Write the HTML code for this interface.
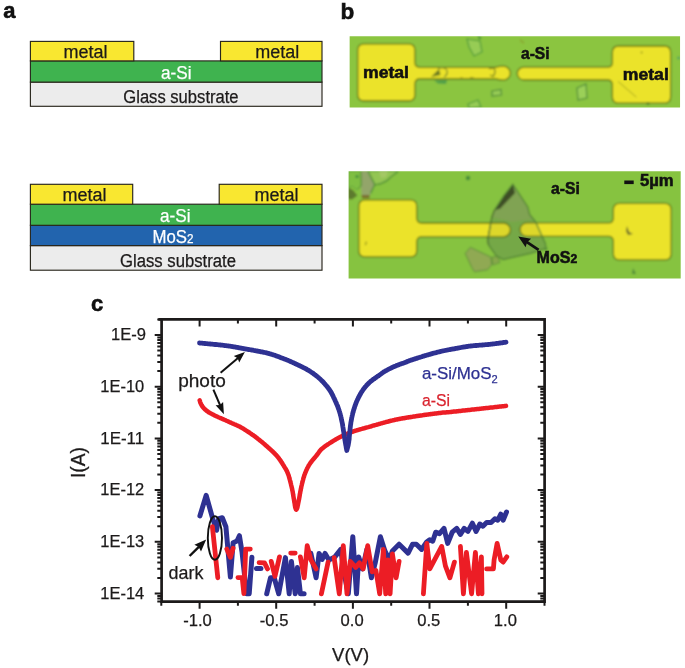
<!DOCTYPE html>
<html><head><meta charset="utf-8"><title>figure</title>
<style>
html,body{margin:0;padding:0;background:#fff;}
body{width:685px;height:668px;overflow:hidden;}
svg{display:block;font-family:"Liberation Sans",sans-serif;will-change:transform;opacity:0.9999;}
</style></head><body>
<svg width="685" height="668" viewBox="0 0 685 668">
<rect width="685" height="668" fill="#fff"/>
<rect x="30.4" y="82.1" width="291.6" height="24.2" fill="#ececec" stroke="#28261c" stroke-width="1.15"/>
<rect x="30.4" y="60.9" width="291.6" height="21.2" fill="#3fb34f" stroke="#28261c" stroke-width="1.15"/>
<rect x="30.4" y="41.4" width="103.4" height="19.5" fill="#f9e730" stroke="#28261c" stroke-width="1.15"/>
<rect x="220.5" y="41.4" width="101.5" height="19.5" fill="#f9e730" stroke="#28261c" stroke-width="1.15"/>
<rect x="30.4" y="245.6" width="291.6" height="24.6" fill="#ececec" stroke="#28261c" stroke-width="1.15"/>
<rect x="30.4" y="225.3" width="291.6" height="20.3" fill="#2264ae" stroke="#28261c" stroke-width="1.15"/>
<rect x="30.4" y="204.2" width="291.6" height="21.1" fill="#3fb34f" stroke="#28261c" stroke-width="1.15"/>
<rect x="30.4" y="184.3" width="102.3" height="19.9" fill="#f9e730" stroke="#28261c" stroke-width="1.15"/>
<rect x="219.2" y="184.3" width="102.8" height="19.9" fill="#f9e730" stroke="#28261c" stroke-width="1.15"/>
<text x="63.5" y="58.3" font-size="18" fill="#1c1a1a" text-anchor="start" font-weight="normal"  textLength="44" lengthAdjust="spacingAndGlyphs" stroke="#1c1a1a" stroke-width="0.25">metal</text>
<text x="255.2" y="58.3" font-size="18" fill="#1c1a1a" text-anchor="start" font-weight="normal"  textLength="44" lengthAdjust="spacingAndGlyphs" stroke="#1c1a1a" stroke-width="0.25">metal</text>
<text x="161" y="79" font-size="18" fill="#fff" text-anchor="start" font-weight="normal"  textLength="30.5" lengthAdjust="spacingAndGlyphs" stroke="#fff" stroke-width="0.25">a-Si</text>
<text x="123.3" y="102.5" font-size="18" fill="#1c1a1a" text-anchor="start" font-weight="normal"  textLength="115.3" lengthAdjust="spacingAndGlyphs" stroke="#1c1a1a" stroke-width="0.25">Glass substrate</text>
<text x="62.5" y="201.3" font-size="18" fill="#1c1a1a" text-anchor="start" font-weight="normal"  textLength="44" lengthAdjust="spacingAndGlyphs" stroke="#1c1a1a" stroke-width="0.25">metal</text>
<text x="254.5" y="201.3" font-size="18" fill="#1c1a1a" text-anchor="start" font-weight="normal"  textLength="44" lengthAdjust="spacingAndGlyphs" stroke="#1c1a1a" stroke-width="0.25">metal</text>
<text x="160" y="222.3" font-size="18" fill="#fff" text-anchor="start" font-weight="normal"  textLength="30.5" lengthAdjust="spacingAndGlyphs" stroke="#fff" stroke-width="0.25">a-Si</text>
<text x="152.5" y="242.7" font-size="18" fill="#fff" text-anchor="start" font-weight="normal"  textLength="41" lengthAdjust="spacingAndGlyphs" stroke="#fff" stroke-width="0.25">MoS<tspan font-size="12.5">2</tspan></text>
<text x="120" y="266.6" font-size="18" fill="#1c1a1a" text-anchor="start" font-weight="normal"  textLength="116" lengthAdjust="spacingAndGlyphs" stroke="#1c1a1a" stroke-width="0.25">Glass substrate</text>
<text x="3.2" y="18" font-size="22" fill="#111" text-anchor="start" font-weight="bold"  stroke="#111" stroke-width="0.55">a</text>
<text x="340.6" y="19.4" font-size="22.5" fill="#111" text-anchor="start" font-weight="bold"  stroke="#111" stroke-width="0.55">b</text>
<text x="91" y="310.8" font-size="22" fill="#111" text-anchor="start" font-weight="bold"  stroke="#111" stroke-width="0.55">c</text>
<defs><filter id="bl" x="-5%" y="-5%" width="110%" height="110%"><feGaussianBlur stdDeviation="0.8"/></filter><clipPath id="c1"><rect x="349.65" y="36.2" width="330.4" height="71.3"/></clipPath><clipPath id="c2"><rect x="348.6" y="171.2" width="332.1" height="107.3"/></clipPath></defs>
<g clip-path="url(#c1)"><g filter="url(#bl)">
<rect x="345" y="32" width="340" height="80" fill="#8bc53f"/>
<path d="M467 39 L480 41 L482 52 L474 56 L469 47Z" fill="#97cc55" stroke="#4f9a3a" stroke-width="1.2"/>
<path d="M492 91 L501 89.5 L501.5 95 L492 96Z" fill="#97cc55" stroke="#4f8a3a" stroke-width="1.2"/>
<path d="M577 88 L586 84 L587 98 L578 100Z" fill="#9bd058" stroke="#4f8a3a" stroke-width="1.2"/>
<path d="M468 104 L478 100 L481 107 L469 108Z" fill="#97cc55" stroke="#4f9a3a" stroke-width="1.2"/>
<path d="M364.2 43.9 H408.5 Q415 43.9 415 50.4 V62.3 Q415 67.3 420 67.3 H495.45 Q499.45 66.2 503.45 66.2 A6.950000000000001 6.950000000000001 0 0 1 503.45 80.1 Q499.45 80.1 495.45 79.0 H420 Q415 79.0 415 84.0 V94.5 Q415 101 408.5 101 H364.2 Q357.7 101 357.7 94.5 V50.4 Q357.7 43.9 364.2 43.9Z" fill="#ebe329" stroke="#637414" stroke-width="1.3"/>
<path d="M664.2 46 H618.8 Q612.3 46 612.3 52.5 V62.2 Q612.3 67.2 607.3 67.2 H523.6999999999999 A6.399999999999999 6.399999999999999 0 0 0 523.6999999999999 80.0 H607.3 Q612.3 80.0 612.3 85.0 V96.7 Q612.3 103.2 618.8 103.2 H664.2 Q670.7 103.2 670.7 96.7 V52.5 Q670.7 46 664.2 46Z" fill="#ebe329" stroke="#637414" stroke-width="1.3"/>
<path d="M431 77 L439 69 L440.5 75 Z" fill="#6a7a22"/>
<path d="M438 68.5 Q444 66 447 70 Q448 75 444 77" fill="none" stroke="#7a8a2a" stroke-width="1.2"/>
<path d="M434 80.5 L447 80 L446 84 L438 83.5Z" fill="#4f9f4a"/>
<path d="M489 68.5 L494 68 M494 68 Q496.5 72 493 76.5 L490 75" fill="none" stroke="#7a8420" stroke-width="1.3"/>
<path d="M477 34 L482 38 L479 40Z" fill="#4f9a3a"/>
<path d="M618 81.4 L636.4 97.2" stroke="#9a9a25" stroke-width="0.9" fill="none"/>
<circle cx="641.6" cy="52.5" r="0.9" fill="#8a8a25"/><circle cx="648" cy="103.5" r="1.5" fill="#4f7a2a"/><circle cx="678.6" cy="58" r="1.3" fill="#3f9a6a"/>
<path d="M520 40 l4 3" stroke="#8a9a2a" stroke-width="1.2"/>
<path d="M470 77.5 l4 0.5 M460 78 l3 0" stroke="#8a8a20" stroke-width="1" fill="none"/>
</g></g>
<text x="363" y="78.3" font-size="16.5" fill="#111" text-anchor="start" font-weight="bold"  textLength="46" lengthAdjust="spacingAndGlyphs" stroke="#111" stroke-width="0.55">metal</text>
<text x="622.8" y="80" font-size="16.5" fill="#111" text-anchor="start" font-weight="bold"  textLength="46" lengthAdjust="spacingAndGlyphs" stroke="#111" stroke-width="0.55">metal</text>
<text x="521" y="59" font-size="16.5" fill="#111" text-anchor="start" font-weight="bold"  textLength="28.6" lengthAdjust="spacingAndGlyphs" stroke="#111" stroke-width="0.55">a-Si</text>
<g clip-path="url(#c2)"><g filter="url(#bl)">
<rect x="344" y="167" width="341" height="116" fill="#86c341"/>
<path d="M368 171 L398.5 171 L392 176 L387 181 L380 184.2 L374.8 184.8Z" fill="#93c552" stroke="#5f9f3c" stroke-width="1"/>
<path d="M379 171 L388 171 L386 177 L381 178Z" fill="#a9c86a" opacity="0.8"/>
<path d="M360.3 171 L368 171 L374.8 184.6 L370.6 193.4 L369.6 196 L361.6 196 L361 185Z" fill="#93a56b"/>
<path d="M361.6 195 L369.6 195 L369.4 198.2 L361.8 198.2Z" fill="#7a6a2a"/>
<path d="M368 171.5 L374.8 184.6 L370.6 193.4 M374.8 184.8 L381 183.6 L387 180.6 L392 176 L397.8 172" fill="none" stroke="#4f9035" stroke-width="1.3"/>
<path d="M361 171.5 L361.3 186 L357 190" fill="none" stroke="#5f8f3a" stroke-width="1"/>
<path d="M348 187.5 L353 190 L357.5 195.5 L352 199.5 L348 199Z" fill="#5d7a2e"/>
<path d="M348 171 L360.3 171 L361 185 L357 190 L352 186 L348 188Z" fill="#7fbf42" stroke="#5a9a3a" stroke-width="0.8"/>
<circle cx="357" cy="176.5" r="1.6" fill="#3f8a3a"/>
<path d="M512.9 184.3 L527.8 206.9 L529.6 214.4 L535.3 221.4 L545.4 243.4 L546 248.4 L530.3 253.4 L503 259.5 L495.9 255.4 L488.7 245.2 L487.5 240.8 L491.9 217 L494.5 210 L503.9 195.6Z" fill="#78ae49"/>
<path d="M512.9 184.3 L527.8 206.9 L529.6 214.4 L533 219 L512 222 L492 217 L494.5 210 L503.9 195.6Z" fill="#84a955"/>
<path d="M512.9 183.5 L503.9 195.6 L494.3 210.4 L500.3 208.6 L515 193Z" fill="#3a4a24"/>
<path d="M465.2 253.4 L470.3 247.3 L490.8 257 L491.8 264.6 L487.7 269.7 L474.4 271.8 L471.9 267.7Z" fill="#90a953" stroke="#5d8f3a" stroke-width="1"/>
<path d="M491.8 257 L497.9 256.5 L500 262.6 L492.8 265.1Z" fill="#86a84a" stroke="#5d8f3a" stroke-width="0.9"/>
<path d="M365.3 199.9 H410.3 Q416.8 199.9 416.8 206.4 V218.0 Q416.8 223.0 421.8 223.0 H495.5 Q499.5 223.0 503.5 223.0 A6.900000000000006 6.900000000000006 0 0 1 503.5 236.8 Q499.5 236.8 495.5 236.8 H421.8 Q416.8 236.8 416.8 241.8 V250.39999999999998 Q416.8 256.9 410.3 256.9 H365.3 Q358.8 256.9 358.8 250.39999999999998 V206.4 Q358.8 199.9 365.3 199.9Z" fill="#ebe329" stroke="#637414" stroke-width="1.3"/>
<path d="M664.7 203.4 H619.8 Q613.3 203.4 613.3 209.9 V217.9 Q613.3 222.9 608.3 222.9 H526.7 A6.700000000000003 6.700000000000003 0 0 0 526.7 236.3 H608.3 Q613.3 236.3 613.3 241.3 V253.39999999999998 Q613.3 259.9 619.8 259.9 H664.7 Q671.2 259.9 671.2 253.39999999999998 V209.9 Q671.2 203.4 664.7 203.4Z" fill="#ebe329" stroke="#637414" stroke-width="1.3"/>
<path d="M365.4 245.2 l1 -3.6" stroke="#8a8a20" stroke-width="1.2" fill="none"/>
<path d="M512.9 184.3 L527.8 206.9 L529.6 214.4 L535.3 221.4 L545.4 243.4 L546 248.4 L530.3 253.4 L503 259.5 L495.9 255.4 L488.7 245.2 L487.5 240.8 L491.9 217 L494.5 210 L503.9 195.6Z" fill="#5f7a3a" fill-opacity="0.10" stroke="#4f7f34" stroke-width="1.2"/>
<path d="M488.7 245.2 L487.5 240.8 L491.9 217 L494.5 210" fill="none" stroke="#4f6f30" stroke-width="1.2"/>
<circle cx="468" cy="178" r="2.2" fill="#3f8a3a"/>
<path d="M627 226 l2 6 l4 2 l-5 1 l-2 -4Z" fill="#6a6a2a"/>
<path d="M633 268 l3 6 l-4 0Z" fill="#4f8a3a"/>
<circle cx="546" cy="249" r="1.4" fill="#4f8a3a"/>
</g></g>
<text x="551" y="193.6" font-size="16.5" fill="#111" text-anchor="start" font-weight="bold"  textLength="28.8" lengthAdjust="spacingAndGlyphs" stroke="#111" stroke-width="0.55">a-Si</text>
<text x="640" y="186.3" font-size="16" fill="#111" text-anchor="start" font-weight="bold"  textLength="33.6" lengthAdjust="spacingAndGlyphs" stroke="#111" stroke-width="0.55">5µm</text>
<rect x="624.3" y="180.5" width="9.4" height="3.6" fill="#111"/>
<text x="536.6" y="263.3" font-size="16.5" fill="#111" text-anchor="start" font-weight="bold"  textLength="40.6" lengthAdjust="spacingAndGlyphs" stroke="#111" stroke-width="0.55">MoS<tspan font-size="12.5">2</tspan></text>
<defs><marker id="ah" viewBox="0 0 10 10" refX="9" refY="5" markerWidth="5.5" markerHeight="5.5" orient="auto-start-reverse"><path d="M0 0.8 L10 5 L0 9.2 L2 5Z" fill="#111"/></marker></defs>
<line x1="538.6" y1="249.8" x2="526.6" y2="241.9" stroke="#111" stroke-width="2.8"/>
<path d="M518.3 236.4 L531.1 238.8 L527.1 242.2 L525.6 247.2Z" fill="#111"/>
<path d="M199.9 515.9 L206.2 495.3 L212.4 517.7 L216.6 530.3 L218.7 518.6 L222.3 517.7 L225.9 526.7 L230.4 577.0 L233.1 542.8 L237.0 541.0 L239.4 535.7 L242.0 551.8 L246.6 593.8 L249.2 593.8 L251.9 557.2" fill="none" stroke="#2e3192" stroke-width="5.0" stroke-linejoin="round" stroke-linecap="round"/>
<path d="M256.4 568.5 L260.9 568.5" fill="none" stroke="#2e3192" stroke-width="5.0" stroke-linejoin="round" stroke-linecap="round"/>
<path d="M266.7 593.8 L270.5 577.8 L274.2 577.8 L278.7 593.8 L285.4 557.6 L289.2 593.8 L291.4 561.4 L295.2 593.8 L297.4 567.4 L300.4 593.8 L304.1 593.8" fill="none" stroke="#2e3192" stroke-width="5.0" stroke-linejoin="round" stroke-linecap="round"/>
<path d="M310.9 553.4 L316.1 577.8 L319.1 553.4 L322.1 559.4 L325.1 553.4 L328.9 559.9 L334.9 556.9 L340.8 549.4 L343.8 571.9 L348.3 593.8 L352.8 536.7 L356.5 593.8 L358.7 556.9 L362.5 568.9 L366.9 549.4 L371.4 577.8 L375.2 562.9 L380.4 536.7 L384.9 550.9 L389.4 559.9 L392.4 550.9 L399.1 544.2 L408.1 553.1 L412.6 544.2 L416.3 544.2 L421.6 549.4 L426.7 541.9 L429.7 539.7 L432.7 541.2 L435.7 532.2 L439.5 533.7 L444.0 528.4 L447.7 543.4 L452.2 532.2 L456.7 528.4 L460.4 534.4 L464.2 528.4 L467.9 531.4 L472.4 523.2 L476.1 531.4 L479.9 524.0 L482.9 526.2 L486.6 522.5 L491.1 522.5 L494.9 518.7 L497.8 520.2 L500.8 514.2 L503.1 520.2 L506.5 512.0" fill="none" stroke="#2e3192" stroke-width="5.0" stroke-linejoin="round" stroke-linecap="round"/>
<path d="M212.4 526.7 L217.8 577.8" fill="none" stroke="#ec1d25" stroke-width="4.8" stroke-linejoin="round" stroke-linecap="round"/>
<path d="M226.8 549.1 L230.4 557.2 L233.1 548.2" fill="none" stroke="#ec1d25" stroke-width="4.8" stroke-linejoin="round" stroke-linecap="round"/>
<path d="M237.9 577.6 L242.2 577.6 L243.9 593.7 L245.7 549.1 L250.3 549.1" fill="none" stroke="#ec1d25" stroke-width="4.8" stroke-linejoin="round" stroke-linecap="round"/>
<path d="M259.1 562.6 L264.5 562.9 L267.5 568.9" fill="none" stroke="#ec1d25" stroke-width="4.8" stroke-linejoin="round" stroke-linecap="round"/>
<path d="M271.2 561.4 L275.0 576.3 L279.5 556.9" fill="none" stroke="#ec1d25" stroke-width="4.8" stroke-linejoin="round" stroke-linecap="round"/>
<path d="M290.7 553.1 L295.2 553.1" fill="none" stroke="#ec1d25" stroke-width="4.8" stroke-linejoin="round" stroke-linecap="round"/>
<path d="M300.4 556.9 L304.2 577.8 L307.2 545.7 L310.9 559.9 L316.1 568.9" fill="none" stroke="#ec1d25" stroke-width="4.8" stroke-linejoin="round" stroke-linecap="round"/>
<path d="M321.4 593.8 L328.1 562.1" fill="none" stroke="#ec1d25" stroke-width="4.8" stroke-linejoin="round" stroke-linecap="round"/>
<path d="M334.1 557.6 L339.3 593.8 L343.3 545.7 L347.0 593.8 L350.2 561.4 L355.7 567.4 L359.5 562.9 L363.2 568.9 L367.7 545.7 L372.2 571.9 L375.9 570.4 L379.7 593.8 L383.4 549.4 L385.7 593.8 L387.9 559.9 L390.1 593.8 L392.4 553.9 L396.1 577.8 L399.1 561.4" fill="none" stroke="#ec1d25" stroke-width="4.8" stroke-linejoin="round" stroke-linecap="round"/>
<path d="M423.4 593.8 L426.8 543.4 L429.8 568.9 L441.7 546.4 L445.4 565.9 L449.9 577.8 L454.4 562.1" fill="none" stroke="#ec1d25" stroke-width="4.8" stroke-linejoin="round" stroke-linecap="round"/>
<path d="M460.4 546.4 L463.4 593.8 L466.4 552.4 L471.6 593.8 L475.4 552.4 L478.4 593.8 L481.4 556.9 L482.0 593.8" fill="none" stroke="#ec1d25" stroke-width="4.8" stroke-linejoin="round" stroke-linecap="round"/>
<path d="M486.6 568.9 L493.4 568.9 L494.1 559.9 L497.1 543.4 L500.8 559.9 L503.1 562.1 L506.8 556.9" fill="none" stroke="#ec1d25" stroke-width="4.8" stroke-linejoin="round" stroke-linecap="round"/>
<path d="M199.7 400.4 L199.9 401.0 L200.1 401.8 L200.4 402.8 L200.8 403.7 L201.2 404.4 L201.6 405.2 L202.0 405.9 L202.5 406.6 L203.0 407.3 L203.5 407.9 L204.1 408.5 L204.7 409.1 L205.3 409.7 L206.0 410.2 L206.6 410.7 L207.2 411.2 L207.9 411.7 L208.6 412.2 L209.6 412.8 L210.2 413.1 L210.8 413.5 L211.5 413.8 L212.3 414.2 L213.0 414.6 L213.8 415.0 L214.6 415.4 L215.4 415.8 L216.2 416.1 L216.9 416.5 L217.6 416.8 L218.4 417.2 L219.1 417.5 L219.8 417.8 L220.6 418.1 L221.3 418.4 L222.0 418.7 L222.7 419.1 L223.5 419.4 L224.2 419.7 L224.9 420.0 L225.6 420.3 L226.4 420.7 L227.1 421.0 L227.8 421.3 L228.5 421.6 L229.2 422.0 L230.0 422.3 L230.7 422.6 L231.5 423.0 L232.2 423.3 L233.0 423.6 L233.8 424.0 L234.5 424.3 L235.3 424.6 L236.1 425.0 L236.9 425.3 L237.7 425.7 L238.5 426.1 L239.3 426.4 L240.0 426.8 L240.7 427.2 L241.4 427.6 L242.1 428.0 L242.8 428.4 L243.5 428.8 L244.1 429.2 L244.8 429.6 L245.5 430.1 L246.1 430.5 L246.8 431.0 L247.5 431.4 L248.1 431.8 L248.8 432.2 L249.4 432.6 L250.0 433.1 L250.6 433.5 L251.2 433.9 L251.9 434.4 L252.5 434.8 L253.1 435.2 L253.8 435.7 L254.4 436.1 L255.0 436.6 L255.6 437.1 L256.3 437.5 L256.9 438.0 L257.5 438.5 L258.1 439.0 L258.8 439.5 L259.4 440.0 L260.0 440.5 L260.6 441.0 L261.3 441.5 L261.9 442.0 L262.5 442.5 L263.1 443.0 L263.6 443.5 L264.2 443.9 L264.8 444.4 L265.3 444.9 L265.9 445.4 L266.5 445.9 L267.1 446.4 L267.6 446.9 L268.2 447.4 L268.8 447.9 L269.3 448.5 L269.9 449.0 L270.4 449.5 L271.0 450.0 L271.5 450.5 L272.1 451.0 L272.6 451.6 L273.2 452.1 L273.7 452.6 L274.3 453.2 L274.8 453.7 L275.4 454.3 L275.9 454.8 L276.4 455.4 L276.9 455.9 L277.4 456.5 L277.9 457.1 L278.4 457.8 L278.9 458.4 L279.4 459.1 L279.9 459.7 L280.3 460.4 L280.8 461.1 L281.2 461.7 L281.6 462.4 L282.1 463.1 L282.5 463.7 L282.9 464.4 L283.3 465.0 L283.7 465.7 L284.1 466.4 L284.5 467.0 L284.9 467.7 L285.3 468.3 L285.7 469.0 L286.1 469.6 L286.4 470.3 L286.8 470.9 L287.1 471.6 L287.4 472.3 L287.7 473.0 L288.0 473.9 L288.4 474.7 L288.7 475.6 L288.9 476.5 L289.2 477.4 L289.4 478.3 L289.7 479.2 L289.9 480.1 L290.2 481.0 L290.4 481.9 L290.6 482.7 L290.8 483.5 L291.0 484.3 L291.2 485.2 L291.4 486.0 L291.6 486.8 L291.8 487.6 L292.0 488.4 L292.2 489.3 L292.3 490.1 L292.5 490.9 L292.7 491.8 L292.8 492.7 L293.0 493.6 L293.1 494.5 L293.3 495.5 L293.4 496.4 L293.6 497.3 L293.7 498.2 L293.9 499.0 L294.0 499.9 L294.2 500.9 L294.3 501.9 L294.5 502.9 L294.7 503.9 L294.8 504.9 L295.0 505.8 L295.1 506.7 L295.3 507.4 L295.4 508.0 L295.9 509.3 L296.2 509.6 L296.2 509.6 L296.6 509.3 L297.2 508.0 L297.4 507.4 L297.5 506.7 L297.7 505.8 L297.9 504.9 L298.1 503.9 L298.3 502.9 L298.5 501.9 L298.7 500.9 L298.9 499.9 L299.1 499.0 L299.2 498.2 L299.4 497.3 L299.5 496.4 L299.7 495.5 L299.8 494.5 L300.0 493.6 L300.2 492.7 L300.3 491.8 L300.5 490.9 L300.7 490.1 L300.8 489.3 L301.0 488.4 L301.2 487.6 L301.3 486.8 L301.5 486.0 L301.7 485.2 L301.9 484.3 L302.1 483.5 L302.3 482.7 L302.5 481.9 L302.7 481.0 L303.0 480.1 L303.2 479.2 L303.4 478.3 L303.7 477.4 L304.0 476.6 L304.2 475.7 L304.5 474.8 L304.9 473.9 L305.2 473.0 L305.5 472.3 L305.8 471.6 L306.1 470.9 L306.4 470.2 L306.7 469.5 L307.0 468.9 L307.3 468.2 L307.7 467.5 L308.1 466.8 L308.4 466.1 L308.8 465.4 L309.3 464.7 L309.7 464.0 L310.1 463.4 L310.5 462.9 L310.9 462.3 L311.4 461.7 L311.8 461.1 L312.3 460.5 L312.8 459.9 L313.3 459.3 L313.7 458.8 L314.2 458.2 L314.7 457.6 L315.2 457.1 L315.6 456.5 L316.1 456.0 L316.5 455.5 L316.9 455.0 L317.4 454.3 L317.9 453.7 L318.3 453.1 L318.7 452.6 L319.1 452.0 L319.4 451.5 L319.8 451.0 L320.3 450.4 L320.8 449.9 L321.3 449.3 L322.0 448.7 L322.5 448.3 L323.0 447.9 L323.5 447.5 L324.1 447.0 L324.7 446.6 L325.3 446.1 L325.9 445.7 L326.6 445.2 L327.2 444.8 L327.9 444.3 L328.6 443.9 L329.2 443.5 L329.9 443.0 L330.6 442.6 L331.2 442.2 L331.9 441.8 L332.5 441.4 L333.2 441.0 L333.9 440.5 L334.6 440.1 L335.3 439.7 L336.0 439.3 L336.7 438.9 L337.4 438.5 L338.1 438.1 L338.8 437.7 L339.5 437.4 L340.2 437.0 L340.9 436.6 L341.6 436.3 L342.3 435.9 L343.0 435.6 L343.7 435.2 L344.5 434.9 L345.2 434.6 L346.0 434.3 L346.7 433.9 L347.5 433.6 L348.2 433.3 L348.9 433.0 L349.7 432.8 L350.4 432.5 L351.2 432.2 L351.9 431.9 L352.7 431.7 L353.4 431.4 L354.2 431.1 L355.1 430.8 L355.9 430.6 L356.8 430.3 L357.6 430.1 L358.5 429.8 L359.3 429.6 L360.2 429.3 L361.0 429.1 L361.8 428.9 L362.5 428.7 L363.2 428.5 L363.9 428.3 L364.9 428.0 L365.5 427.8 L365.9 427.7 L366.4 427.6 L367.1 427.4 L368.3 427.1 L370.0 426.6 L370.5 426.5 L371.1 426.3 L371.7 426.1 L372.3 425.9 L373.0 425.7 L373.7 425.5 L374.4 425.3 L375.2 425.1 L376.0 424.9 L376.8 424.7 L377.6 424.4 L378.5 424.2 L379.3 423.9 L380.2 423.7 L381.1 423.4 L382.0 423.2 L382.9 422.9 L383.8 422.7 L384.7 422.4 L385.6 422.2 L386.5 421.9 L387.4 421.7 L388.3 421.5 L389.2 421.2 L390.0 421.0 L390.9 420.8 L391.8 420.6 L392.6 420.4 L393.4 420.2 L394.3 420.0 L395.1 419.8 L396.0 419.6 L396.9 419.5 L397.7 419.3 L398.6 419.1 L399.4 419.0 L400.3 418.8 L401.2 418.6 L402.0 418.5 L402.9 418.3 L403.8 418.2 L404.6 418.0 L405.5 417.9 L406.3 417.7 L407.2 417.6 L408.1 417.5 L408.9 417.3 L409.8 417.2 L410.7 417.0 L411.5 416.9 L412.4 416.8 L413.2 416.6 L414.1 416.5 L415.0 416.4 L415.8 416.2 L416.7 416.1 L417.6 416.0 L418.5 415.8 L419.5 415.7 L420.4 415.5 L421.4 415.4 L422.4 415.3 L423.4 415.1 L424.3 415.0 L425.3 414.8 L426.3 414.7 L427.3 414.6 L428.3 414.4 L429.2 414.3 L430.2 414.2 L431.1 414.0 L432.1 413.9 L433.0 413.8 L433.9 413.7 L434.8 413.6 L435.6 413.5 L436.4 413.4 L437.2 413.3 L438.0 413.2 L438.7 413.1 L439.4 413.0 L440.1 412.9 L441.7 412.7 L442.8 412.6 L443.7 412.5 L444.3 412.5 L445.0 412.4 L445.7 412.4 L446.7 412.3 L448.1 412.2 L450.0 412.0 L450.6 411.9 L451.3 411.9 L452.0 411.8 L452.8 411.7 L453.6 411.6 L454.4 411.5 L455.3 411.4 L456.1 411.4 L457.0 411.3 L458.0 411.2 L458.9 411.1 L459.9 411.0 L460.9 410.9 L461.9 410.7 L462.9 410.6 L463.9 410.5 L464.9 410.4 L465.9 410.3 L467.0 410.2 L468.0 410.1 L469.1 410.0 L470.1 409.9 L471.1 409.7 L472.1 409.6 L473.1 409.5 L474.2 409.4 L475.1 409.3 L476.1 409.2 L477.1 409.1 L478.0 409.0 L478.9 408.9 L479.8 408.8 L480.8 408.7 L481.8 408.6 L482.9 408.5 L484.0 408.3 L485.0 408.2 L486.1 408.1 L487.2 408.0 L488.3 407.9 L489.4 407.7 L490.5 407.6 L491.6 407.5 L492.7 407.4 L493.7 407.3 L494.8 407.1 L495.8 407.0 L496.8 406.9 L497.8 406.8 L498.7 406.7 L499.6 406.6 L500.5 406.5 L501.4 406.4 L502.2 406.3 L502.9 406.2 L503.7 406.2 L504.3 406.1 L504.9 406.0 L505.5 406.0 L506.0 405.9" fill="none" stroke="#ec1d25" stroke-width="4.5" stroke-linejoin="round" stroke-linecap="round"/>
<path d="M199.5 343.0 L200.0 343.0 L200.6 343.1 L201.3 343.2 L202.1 343.2 L203.0 343.3 L203.9 343.4 L204.9 343.5 L205.9 343.6 L207.0 343.7 L208.1 343.8 L209.2 343.9 L210.3 344.0 L211.4 344.1 L212.5 344.2 L213.3 344.3 L214.2 344.4 L215.0 344.5 L215.9 344.5 L216.8 344.6 L217.7 344.7 L218.6 344.8 L219.6 344.9 L220.5 345.0 L221.4 345.1 L222.4 345.2 L223.4 345.3 L224.3 345.5 L225.3 345.6 L226.2 345.7 L227.2 345.8 L228.1 345.9 L229.1 346.1 L230.0 346.2 L230.9 346.3 L231.8 346.5 L232.7 346.6 L233.7 346.8 L234.6 346.9 L235.6 347.1 L236.5 347.3 L237.5 347.4 L238.4 347.6 L239.4 347.8 L240.3 348.0 L241.2 348.1 L242.1 348.3 L243.0 348.5 L243.8 348.6 L244.6 348.8 L245.4 348.9 L246.2 349.1 L246.9 349.2 L247.5 349.3 L248.9 349.5 L249.9 349.7 L250.7 349.8 L251.4 349.9 L252.1 350.1 L252.8 350.2 L253.8 350.4 L255.0 350.6 L255.6 350.7 L256.3 350.9 L257.1 351.0 L257.8 351.1 L258.6 351.3 L259.4 351.4 L260.3 351.6 L261.2 351.8 L262.0 351.9 L262.9 352.1 L263.8 352.3 L264.7 352.5 L265.6 352.7 L266.5 352.9 L267.4 353.1 L268.3 353.3 L269.2 353.6 L270.0 353.8 L270.8 354.0 L271.5 354.3 L272.3 354.5 L273.1 354.8 L273.9 355.0 L274.7 355.3 L275.5 355.6 L276.4 355.9 L277.2 356.2 L278.0 356.5 L278.8 356.8 L279.5 357.1 L280.3 357.4 L281.1 357.7 L281.8 358.0 L282.5 358.2 L283.2 358.5 L283.8 358.7 L284.4 359.0 L285.0 359.2 L286.1 359.6 L287.0 360.0 L287.8 360.3 L288.5 360.6 L289.2 360.9 L289.9 361.2 L290.5 361.5 L291.1 361.8 L291.8 362.1 L292.5 362.4 L293.2 362.7 L294.0 363.1 L294.8 363.4 L295.5 363.8 L296.2 364.1 L297.0 364.5 L297.8 364.8 L298.5 365.2 L299.2 365.5 L300.0 365.9 L300.8 366.3 L301.5 366.6 L302.3 367.0 L303.0 367.4 L303.8 367.8 L304.5 368.1 L305.3 368.5 L306.0 368.9 L306.8 369.4 L307.5 369.8 L308.2 370.2 L308.9 370.6 L309.5 371.0 L310.2 371.4 L310.9 371.9 L311.5 372.3 L312.2 372.8 L312.9 373.2 L313.5 373.7 L314.2 374.2 L314.9 374.7 L315.5 375.1 L316.0 375.6 L316.6 376.1 L317.2 376.5 L317.8 377.0 L318.4 377.5 L318.9 378.0 L319.5 378.5 L320.1 379.0 L320.7 379.6 L321.2 380.1 L321.8 380.7 L322.4 381.3 L322.9 381.8 L323.4 382.3 L323.8 382.8 L324.3 383.4 L324.8 383.9 L325.3 384.5 L325.8 385.1 L326.3 385.6 L326.8 386.2 L327.3 386.8 L327.7 387.4 L328.2 388.0 L328.6 388.6 L329.1 389.2 L329.5 389.8 L329.9 390.4 L330.3 391.0 L330.7 391.7 L331.1 392.3 L331.5 393.0 L331.8 393.7 L332.2 394.3 L332.5 395.0 L332.9 395.7 L333.2 396.4 L333.5 397.1 L333.8 397.8 L334.2 398.4 L334.5 399.1 L334.8 399.8 L335.1 400.5 L335.4 401.2 L335.8 402.0 L336.1 402.7 L336.4 403.5 L336.7 404.2 L337.1 405.0 L337.4 405.7 L337.7 406.5 L338.0 407.2 L338.2 408.0 L338.5 408.7 L338.8 409.5 L339.1 410.3 L339.3 411.0 L339.6 411.9 L339.8 412.7 L340.1 413.6 L340.3 414.5 L340.5 415.3 L340.8 416.2 L341.0 417.1 L341.2 417.9 L341.3 418.8 L341.5 419.7 L341.7 420.5 L341.9 421.4 L342.1 422.4 L342.3 423.3 L342.5 424.3 L342.6 425.2 L342.8 426.2 L342.9 427.1 L343.1 428.1 L343.2 429.0 L343.4 430.0 L343.5 430.9 L343.7 431.9 L343.9 432.9 L344.0 433.8 L344.2 434.8 L344.3 435.8 L344.4 436.8 L344.6 437.8 L344.7 438.8 L344.9 439.7 L345.0 440.6 L345.2 441.5 L345.3 442.4 L345.5 443.4 L345.7 444.5 L345.9 445.6 L346.1 446.6 L346.2 447.6 L346.4 448.5 L346.6 449.3 L346.7 450.0 L346.8 450.5 L346.8 450.5 L346.9 450.0 L347.1 449.3 L347.3 448.5 L347.6 447.6 L347.8 446.6 L348.1 445.6 L348.3 444.5 L348.5 443.4 L348.7 442.4 L348.8 441.5 L348.9 440.6 L349.1 439.7 L349.2 438.8 L349.2 437.8 L349.3 436.8 L349.4 435.8 L349.5 434.8 L349.6 433.8 L349.7 432.9 L349.8 431.9 L349.9 430.9 L350.0 430.0 L350.1 429.0 L350.2 428.1 L350.3 427.1 L350.4 426.2 L350.5 425.2 L350.7 424.3 L350.8 423.3 L350.9 422.4 L351.1 421.4 L351.3 420.5 L351.4 419.7 L351.6 418.8 L351.7 417.9 L351.9 417.1 L352.1 416.2 L352.3 415.3 L352.5 414.5 L352.7 413.6 L352.9 412.7 L353.2 411.9 L353.4 411.0 L353.6 410.2 L353.9 409.4 L354.1 408.6 L354.4 407.8 L354.6 407.0 L354.9 406.2 L355.2 405.4 L355.5 404.5 L355.8 403.7 L356.1 402.9 L356.4 402.1 L356.7 401.3 L357.1 400.5 L357.4 399.8 L357.8 399.1 L358.1 398.4 L358.5 397.6 L358.8 396.9 L359.2 396.2 L359.6 395.5 L360.0 394.7 L360.4 394.0 L360.8 393.3 L361.2 392.6 L361.6 391.9 L362.0 391.3 L362.5 390.6 L362.9 390.0 L363.3 389.4 L363.8 388.8 L364.2 388.2 L364.6 387.7 L365.1 387.1 L365.5 386.6 L366.0 386.1 L366.4 385.5 L366.9 385.0 L367.4 384.5 L367.9 384.0 L368.4 383.5 L368.9 383.0 L369.4 382.5 L370.0 382.0 L370.5 381.5 L371.1 381.1 L371.7 380.6 L372.3 380.2 L372.9 379.7 L373.5 379.2 L374.2 378.8 L374.8 378.3 L375.5 377.8 L376.1 377.4 L376.7 377.0 L377.3 376.5 L377.9 376.1 L378.5 375.8 L379.0 375.4 L379.5 375.0 L380.0 374.7 L380.8 374.1 L381.5 373.6 L382.0 373.2 L382.5 372.8 L383.0 372.5 L383.5 372.1 L384.2 371.7 L385.0 371.2 L385.5 370.9 L386.1 370.6 L386.7 370.3 L387.3 369.9 L388.0 369.6 L388.6 369.2 L389.3 368.9 L390.0 368.5 L390.8 368.2 L391.5 367.8 L392.2 367.5 L392.9 367.1 L393.6 366.8 L394.3 366.5 L395.0 366.2 L395.8 365.9 L396.6 365.5 L397.4 365.2 L398.2 364.9 L399.1 364.6 L399.9 364.3 L400.7 364.0 L401.5 363.7 L402.3 363.5 L403.0 363.2 L403.7 363.0 L404.4 362.7 L405.0 362.5 L405.9 362.1 L406.5 361.9 L407.0 361.7 L407.4 361.5 L408.0 361.2 L408.8 360.9 L410.0 360.5 L410.6 360.3 L411.2 360.1 L411.8 359.9 L412.5 359.7 L413.2 359.4 L414.0 359.2 L414.8 358.9 L415.6 358.6 L416.4 358.4 L417.3 358.1 L418.2 357.8 L419.0 357.5 L419.9 357.3 L420.8 357.0 L421.7 356.7 L422.5 356.4 L423.4 356.2 L424.2 355.9 L425.0 355.7 L425.8 355.5 L426.6 355.2 L427.4 355.0 L428.2 354.8 L428.9 354.5 L429.7 354.3 L430.5 354.1 L431.3 353.9 L432.1 353.6 L432.9 353.4 L433.7 353.2 L434.5 353.0 L435.3 352.8 L436.1 352.6 L436.8 352.4 L437.6 352.2 L438.4 352.0 L439.2 351.8 L440.0 351.6 L440.8 351.4 L441.7 351.2 L442.5 351.0 L443.3 350.8 L444.2 350.7 L445.0 350.5 L445.8 350.3 L446.7 350.2 L447.5 350.0 L448.3 349.8 L449.2 349.7 L450.0 349.5 L450.8 349.4 L451.7 349.2 L452.5 349.1 L453.3 348.9 L454.2 348.8 L455.0 348.6 L455.9 348.4 L456.7 348.3 L457.6 348.1 L458.4 348.0 L459.3 347.8 L460.1 347.7 L460.9 347.5 L461.8 347.3 L462.6 347.2 L463.5 347.1 L464.3 346.9 L465.2 346.8 L466.1 346.6 L467.1 346.5 L468.0 346.4 L469.0 346.2 L470.0 346.1 L470.8 346.0 L471.7 345.9 L472.6 345.8 L473.6 345.7 L474.5 345.6 L475.5 345.5 L476.4 345.5 L477.4 345.4 L478.4 345.3 L479.4 345.2 L480.4 345.1 L481.4 345.1 L482.4 345.0 L483.4 344.9 L484.4 344.8 L485.4 344.7 L486.4 344.7 L487.3 344.6 L488.2 344.5 L489.1 344.4 L490.0 344.3 L491.0 344.2 L492.0 344.1 L493.1 343.9 L494.1 343.8 L495.2 343.7 L496.2 343.5 L497.3 343.4 L498.3 343.3 L499.2 343.1 L500.2 343.0 L501.1 342.9 L502.0 342.8 L502.8 342.6 L503.6 342.5 L504.3 342.4 L504.9 342.3 L505.5 342.3 L506.0 342.2" fill="none" stroke="#2e3192" stroke-width="4.8" stroke-linejoin="round" stroke-linecap="round"/>
<path d="M158.29999999999998 319.4 H544.6 V603.0 " fill="none" stroke="#1c1a1a" stroke-width="2.7" stroke-linejoin="miter"/>
<path d="M161.6 319.4 V601.7 H544.6" fill="none" stroke="#1c1a1a" stroke-width="2.7"/>
<path d="M161.3 601.7 v4 M199.6 601.7 v7 M199.6 319.4 v7 M237.9 601.7 v4 M237.9 319.4 v4 M276.2 601.7 v7 M276.2 319.4 v7 M314.6 601.7 v4 M314.6 319.4 v4 M352.9 601.7 v7 M352.9 319.4 v7 M391.2 601.7 v4 M391.2 319.4 v4 M429.5 601.7 v7 M429.5 319.4 v7 M467.9 601.7 v4 M467.9 319.4 v4 M506.2 601.7 v7 M506.2 319.4 v7 M544.5 601.7 v4 M161.6 601.5 h-4.3 M544.6 601.5 h-4.3 M161.6 598.5 h-4.3 M544.6 598.5 h-4.3 M161.6 595.9 h-4.3 M544.6 595.9 h-4.3 M161.6 593.5 h-6.9 M544.6 593.5 h-6.9 M161.6 577.9 h-4.3 M544.6 577.9 h-4.3 M161.6 568.8 h-4.3 M544.6 568.8 h-4.3 M161.6 562.4 h-4.3 M544.6 562.4 h-4.3 M161.6 557.4 h-4.3 M544.6 557.4 h-4.3 M161.6 553.3 h-4.3 M544.6 553.3 h-4.3 M161.6 549.8 h-4.3 M544.6 549.8 h-4.3 M161.6 546.8 h-4.3 M544.6 546.8 h-4.3 M161.6 544.2 h-4.3 M544.6 544.2 h-4.3 M161.6 541.8 h-6.9 M544.6 541.8 h-6.9 M161.6 526.2 h-4.3 M544.6 526.2 h-4.3 M161.6 517.1 h-4.3 M544.6 517.1 h-4.3 M161.6 510.7 h-4.3 M544.6 510.7 h-4.3 M161.6 505.7 h-4.3 M544.6 505.7 h-4.3 M161.6 501.6 h-4.3 M544.6 501.6 h-4.3 M161.6 498.1 h-4.3 M544.6 498.1 h-4.3 M161.6 495.1 h-4.3 M544.6 495.1 h-4.3 M161.6 492.5 h-4.3 M544.6 492.5 h-4.3 M161.6 490.1 h-6.9 M544.6 490.1 h-6.9 M161.6 474.5 h-4.3 M544.6 474.5 h-4.3 M161.6 465.4 h-4.3 M544.6 465.4 h-4.3 M161.6 459.0 h-4.3 M544.6 459.0 h-4.3 M161.6 454.0 h-4.3 M544.6 454.0 h-4.3 M161.6 449.9 h-4.3 M544.6 449.9 h-4.3 M161.6 446.4 h-4.3 M544.6 446.4 h-4.3 M161.6 443.4 h-4.3 M544.6 443.4 h-4.3 M161.6 440.8 h-4.3 M544.6 440.8 h-4.3 M161.6 438.4 h-6.9 M544.6 438.4 h-6.9 M161.6 422.8 h-4.3 M544.6 422.8 h-4.3 M161.6 413.7 h-4.3 M544.6 413.7 h-4.3 M161.6 407.3 h-4.3 M544.6 407.3 h-4.3 M161.6 402.3 h-4.3 M544.6 402.3 h-4.3 M161.6 398.2 h-4.3 M544.6 398.2 h-4.3 M161.6 394.7 h-4.3 M544.6 394.7 h-4.3 M161.6 391.7 h-4.3 M544.6 391.7 h-4.3 M161.6 389.1 h-4.3 M544.6 389.1 h-4.3 M161.6 386.7 h-6.9 M544.6 386.7 h-6.9 M161.6 371.1 h-4.3 M544.6 371.1 h-4.3 M161.6 362.0 h-4.3 M544.6 362.0 h-4.3 M161.6 355.6 h-4.3 M544.6 355.6 h-4.3 M161.6 350.6 h-4.3 M544.6 350.6 h-4.3 M161.6 346.5 h-4.3 M544.6 346.5 h-4.3 M161.6 343.0 h-4.3 M544.6 343.0 h-4.3 M161.6 340.0 h-4.3 M544.6 340.0 h-4.3 M161.6 337.4 h-4.3 M544.6 337.4 h-4.3 M161.6 335.0 h-6.9 M544.6 335.0 h-6.9 M161.6 319.4 h-4.3 M544.6 319.4 h-4.3" fill="none" stroke="#1c1a1a" stroke-width="2.0"/>
<text x="100.3" y="598.8" font-size="16.8" fill="#1c1a1a" text-anchor="start" font-weight="normal"  textLength="43.9" lengthAdjust="spacingAndGlyphs" stroke="#1c1a1a" stroke-width="0.25">1E-14</text>
<text x="100.3" y="547.0999999999999" font-size="16.8" fill="#1c1a1a" text-anchor="start" font-weight="normal"  textLength="43.9" lengthAdjust="spacingAndGlyphs" stroke="#1c1a1a" stroke-width="0.25">1E-13</text>
<text x="100.3" y="495.40000000000003" font-size="16.8" fill="#1c1a1a" text-anchor="start" font-weight="normal"  textLength="43.9" lengthAdjust="spacingAndGlyphs" stroke="#1c1a1a" stroke-width="0.25">1E-12</text>
<text x="100.3" y="443.7" font-size="16.8" fill="#1c1a1a" text-anchor="start" font-weight="normal"  textLength="43.9" lengthAdjust="spacingAndGlyphs" stroke="#1c1a1a" stroke-width="0.25">1E-11</text>
<text x="100.3" y="392.0" font-size="16.8" fill="#1c1a1a" text-anchor="start" font-weight="normal"  textLength="43.9" lengthAdjust="spacingAndGlyphs" stroke="#1c1a1a" stroke-width="0.25">1E-10</text>
<text x="111.0" y="340.3" font-size="16.8" fill="#1c1a1a" text-anchor="start" font-weight="normal"  textLength="35.0" lengthAdjust="spacingAndGlyphs" stroke="#1c1a1a" stroke-width="0.25">1E-9</text>
<text x="197.49999999999997" y="626.2" font-size="16.6" fill="#1c1a1a" text-anchor="middle" font-weight="normal"  stroke="#1c1a1a" stroke-width="0.25">-1.0</text>
<text x="274.15" y="626.2" font-size="16.6" fill="#1c1a1a" text-anchor="middle" font-weight="normal"  stroke="#1c1a1a" stroke-width="0.25">-0.5</text>
<text x="352.09999999999997" y="626.2" font-size="16.6" fill="#1c1a1a" text-anchor="middle" font-weight="normal"  stroke="#1c1a1a" stroke-width="0.25">0.0</text>
<text x="428.74999999999994" y="626.2" font-size="16.6" fill="#1c1a1a" text-anchor="middle" font-weight="normal"  stroke="#1c1a1a" stroke-width="0.25">0.5</text>
<text x="505.4" y="626.2" font-size="16.6" fill="#1c1a1a" text-anchor="middle" font-weight="normal"  stroke="#1c1a1a" stroke-width="0.25">1.0</text>
<text x="350.6" y="660.5" font-size="18.5" fill="#1c1a1a" text-anchor="middle" font-weight="normal"  stroke="#1c1a1a" stroke-width="0.25">V(V)</text>
<text transform="translate(85.0,478) rotate(-90)" font-size="19.4" fill="#1c1a1a" stroke="#1c1a1a" stroke-width="0.25" text-anchor="start" textLength="31" lengthAdjust="spacingAndGlyphs">I(A)</text>
<text x="178.2" y="387" font-size="18.2" fill="#1c1a1a" text-anchor="start" font-weight="normal"  textLength="47.6" lengthAdjust="spacingAndGlyphs" stroke="#1c1a1a" stroke-width="0.25">photo</text>
<text x="168.6" y="579.4" font-size="17.7" fill="#1c1a1a" text-anchor="start" font-weight="normal"  textLength="34.8" lengthAdjust="spacingAndGlyphs" stroke="#1c1a1a" stroke-width="0.25">dark</text>
<text x="421.9" y="378.6" font-size="16.8" fill="#2e3192" text-anchor="start" font-weight="normal"  textLength="75.8" lengthAdjust="spacingAndGlyphs" stroke="#2e3192" stroke-width="0.25">a-Si/MoS<tspan font-size="11" dy="4.6">2</tspan></text>
<text x="421.9" y="406.2" font-size="16.8" fill="#d9232e" text-anchor="start" font-weight="normal"  textLength="28" lengthAdjust="spacingAndGlyphs" stroke="#d9232e" stroke-width="0.25">a-Si</text>
<defs><marker id="ak" viewBox="0 0 10 10" refX="9.5" refY="5" markerWidth="6" markerHeight="6" orient="auto-start-reverse"><path d="M0 1 L10 5 L0 9 L1.5 5Z" fill="#111"/></marker></defs>
<line x1="220.6" y1="372.8" x2="238.0" y2="357.9" stroke="#111" stroke-width="2.0"/>
<path d="M244.9 352.1 L239.2 362.4 L237.7 358.3 L233.8 356.0Z" fill="#111"/>
<line x1="213.4" y1="389.7" x2="220.2" y2="405.5" stroke="#111" stroke-width="2.0"/>
<path d="M223.9 414.2 L215.6 405.2 L220.0 405.0 L223.1 402.0Z" fill="#111"/>
<line x1="189.6" y1="556.0" x2="199.1" y2="546.6" stroke="#111" stroke-width="2.4"/>
<path d="M206.2 539.6 L201.0 551.4 L198.7 547.0 L194.4 544.7Z" fill="#111"/>
<ellipse cx="214.9" cy="538" rx="7.1" ry="21.8" fill="none" stroke="#111" stroke-width="1.9"/>
</svg>
</body></html>
